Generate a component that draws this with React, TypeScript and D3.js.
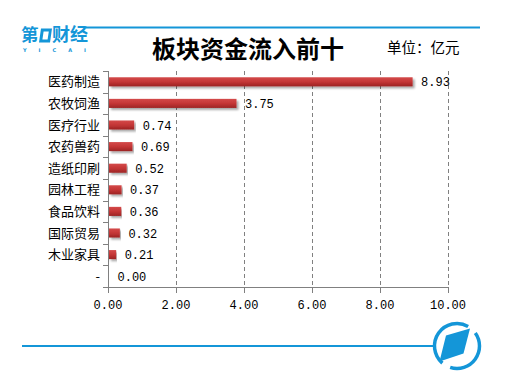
import React from "react";
import * as d3 from "d3";

const categories = ["医药制造", "农牧饲渔", "医疗行业", "农药兽药", "造纸印刷", "园林工程", "食品饮料", "国际贸易", "木业家具", "-"];
const values = [8.93, 3.75, 0.74, 0.69, 0.52, 0.37, 0.36, 0.32, 0.21, 0.0];
const xTicks = [0, 2, 4, 6, 8, 10];
const title = "板块资金流入前十";
const unitLabel = "单位：亿元";

const W = 506, H = 386;
const plot = { left: 108, right: 448, top: 71, bottom: 287 };
const BLUE = "#1496d8";

export default function App() {
  const x = d3.scaleLinear().domain([0, 10]).range([plot.left, plot.right]);
  const y = d3.scaleBand<string>().domain(categories).range([plot.top, plot.bottom]).paddingInner(0.58).paddingOuter(0.29);
  const yb = d3.scaleBand<string>().domain(categories).range([plot.top, plot.bottom]);
  const mono = "'Liberation Mono', 'DejaVu Sans Mono', monospace";
  const cjk = "'Noto Sans CJK SC', sans-serif";
  const arc = d3.arc();
  return (
    <svg width={W} height={H} style={{ position: "absolute", left: 0, top: 0, background: "#fff" }}>
      <defs>
        <linearGradient id="barGrad" x1="0" y1="0" x2="0" y2="1">
          <stop offset="0" stopColor="#d44a4a" />
          <stop offset="0.5" stopColor="#c43636" />
          <stop offset="1" stopColor="#9c2424" />
        </linearGradient>
        <filter id="shadow" x="-5%" y="-50%" width="110%" height="250%">
          <feGaussianBlur in="SourceAlpha" stdDeviation="1.2" />
          <feOffset dx="1.5" dy="2" result="b" />
          <feComponentTransfer><feFuncA type="linear" slope="0.35" /></feComponentTransfer>
          <feMerge><feMergeNode /><feMergeNode in="SourceGraphic" /></feMerge>
        </filter>
      </defs>

      {/* logo top-left */}
      <g fill={BLUE} fontFamily={cjk} fontWeight="bold">
        <text x={21} y={41} fontSize={17.5}>第</text>
        <path d="M41,28.5 L52,28.5 L50,42.5 L39,42.5 Z M43.6,31.5 L42.4,39.5 L47.6,39.5 L48.8,31.5 Z" fillRule="evenodd" />
        <text x={52} y={41} fontSize={18}>财经</text>
        <text x={23} y={51.5} fontSize={5} fontFamily="'DejaVu Sans', sans-serif" fontWeight="bold" letterSpacing={12}>YICAI</text>
      </g>
      <line x1={86} x2={480} y1={27.5} y2={27.5} stroke={BLUE} strokeWidth={2} />

      {/* title */}
      <text x={248} y={58} textAnchor="middle" fontSize={24} fontWeight="bold" fontFamily={cjk} fill="#000">{title}</text>
      <text x={387} y={53} fontSize={14.5} fontFamily={cjk} fill="#000">{unitLabel}</text>

      {/* grid */}
      {xTicks.slice(1).map(t => (
        <line key={"g" + t} x1={Math.round(x(t)) + 0.5} x2={Math.round(x(t)) + 0.5} y1={plot.top} y2={plot.bottom} stroke="#808080" strokeDasharray="4,3" strokeWidth={1} />
      ))}

      {/* bars */}
      {categories.map((c, i) => (
        <rect key={c} x={x(0) + 1} y={y(c)!} width={Math.max(0, x(values[i]) - x(0))} height={y.bandwidth()} fill="url(#barGrad)" filter="url(#shadow)" />
      ))}

      {/* value labels */}
      {categories.map((c, i) => (
        <text key={"v" + c} x={x(values[i]) + 9.5} y={yb(c)! + yb.bandwidth() / 2 + 4.5} fontSize={12} fontFamily={mono} fill="#000">{values[i].toFixed(2)}</text>
      ))}

      {/* axes */}
      <line x1={plot.left + 0.5} x2={plot.left + 0.5} y1={plot.top} y2={plot.bottom + 0.5} stroke="#808080" strokeWidth={1} />
      <line x1={plot.left} x2={plot.right} y1={plot.bottom + 0.5} y2={plot.bottom + 0.5} stroke="#808080" strokeWidth={1} />
      {[...categories.map(c => yb(c)!), plot.bottom].map((v, i) => (
        <line key={"yt" + i} x1={plot.left - 5} x2={plot.left} y1={Math.round(v) + 0.5} y2={Math.round(v) + 0.5} stroke="#808080" />
      ))}
      {xTicks.map(t => (
        <g key={"xt" + t}>
          <line x1={Math.round(x(t)) + 0.5} x2={Math.round(x(t)) + 0.5} y1={plot.bottom} y2={plot.bottom + 6} stroke="#808080" />
          <text x={x(t)} y={plot.bottom + 22} textAnchor="middle" fontSize={12} fontFamily={mono} fill="#000">{t.toFixed(2)}</text>
        </g>
      ))}
      {categories.map(c => (
        <text key={"c" + c} x={plot.left - 8} y={yb(c)! + yb.bandwidth() / 2 + 4.5} textAnchor="end" fontSize={13} fontFamily={cjk} fill="#000">{c}</text>
      ))}

      {/* bottom line and logo */}
      <line x1={22} x2={433} y1={346} y2={346} stroke={BLUE} strokeWidth={2} />
      <g stroke={BLUE} strokeWidth={3.5} fill="none" transform="translate(457,346)">
        <path d={arc({ innerRadius: 22.5, outerRadius: 22.5, startAngle: 0.95, endAngle: 3.45 } as any) || ""} />
        <path d={arc({ innerRadius: 22.5, outerRadius: 22.5, startAngle: 3.85, endAngle: 6.8 } as any) || ""} />
      </g>
      <path d="M446,335.5 L470,328.5 L463.5,353.5 L439.5,361.5 Z" fill={BLUE} />
    </svg>
  );
}
